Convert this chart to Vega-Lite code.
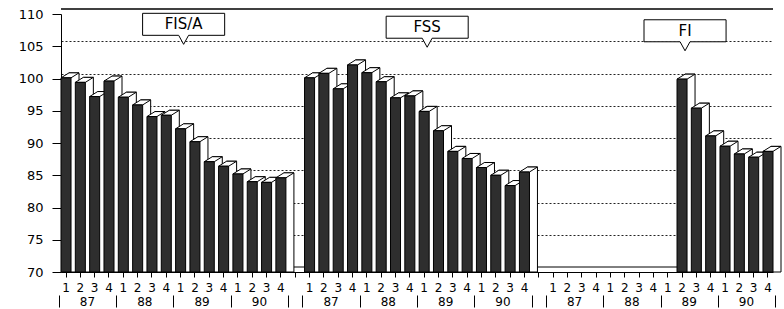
{
  "$schema": "https://vega.github.io/schema/vega-lite/v6.json",
  "width": 712,
  "height": 258,
  "autosize": {"type": "none"},
  "padding": {"left": 61, "top": 14, "right": 11, "bottom": 37},
  "config": {
    "font": "DejaVu Sans",
    "view": {"stroke": null},
    "axis": {"labelColor": "black", "tickColor": "black", "domainColor": "black", "labelFont": "DejaVu Sans"}
  },
  "datasets": {
    "one": [{}],
    "callouts": [
      {"label": "FIS/A", "at": "A89Q1", "y": 108.4},
      {"label": "FSS", "at": "S89Q1", "y": 107.95},
      {"label": "FI", "at": "I89Q2", "y": 107.4}
    ],
    "bars": [
      {"series": "FIS/A", "slot": "A87Q1", "value": 100.1},
      {"series": "FIS/A", "slot": "A87Q2", "value": 99.4},
      {"series": "FIS/A", "slot": "A87Q3", "value": 97.2},
      {"series": "FIS/A", "slot": "A87Q4", "value": 99.6},
      {"series": "FIS/A", "slot": "A88Q1", "value": 97.1},
      {"series": "FIS/A", "slot": "A88Q2", "value": 95.9},
      {"series": "FIS/A", "slot": "A88Q3", "value": 94.1},
      {"series": "FIS/A", "slot": "A88Q4", "value": 94.3},
      {"series": "FIS/A", "slot": "A89Q1", "value": 92.2},
      {"series": "FIS/A", "slot": "A89Q2", "value": 90.2},
      {"series": "FIS/A", "slot": "A89Q3", "value": 87.1},
      {"series": "FIS/A", "slot": "A89Q4", "value": 86.4},
      {"series": "FIS/A", "slot": "A90Q1", "value": 85.2},
      {"series": "FIS/A", "slot": "A90Q2", "value": 84.0},
      {"series": "FIS/A", "slot": "A90Q3", "value": 83.9},
      {"series": "FIS/A", "slot": "A90Q4", "value": 84.6},
      {"series": "FSS", "slot": "S87Q1", "value": 100.1},
      {"series": "FSS", "slot": "S87Q2", "value": 100.8},
      {"series": "FSS", "slot": "S87Q3", "value": 98.4},
      {"series": "FSS", "slot": "S87Q4", "value": 102.1},
      {"series": "FSS", "slot": "S88Q1", "value": 100.9},
      {"series": "FSS", "slot": "S88Q2", "value": 99.5},
      {"series": "FSS", "slot": "S88Q3", "value": 97.0},
      {"series": "FSS", "slot": "S88Q4", "value": 97.3},
      {"series": "FSS", "slot": "S89Q1", "value": 94.9},
      {"series": "FSS", "slot": "S89Q2", "value": 91.9},
      {"series": "FSS", "slot": "S89Q3", "value": 88.7},
      {"series": "FSS", "slot": "S89Q4", "value": 87.6},
      {"series": "FSS", "slot": "S90Q1", "value": 86.2},
      {"series": "FSS", "slot": "S90Q2", "value": 85.0},
      {"series": "FSS", "slot": "S90Q3", "value": 83.4},
      {"series": "FSS", "slot": "S90Q4", "value": 85.5},
      {"series": "FI", "slot": "I89Q2", "value": 99.9},
      {"series": "FI", "slot": "I89Q3", "value": 95.4},
      {"series": "FI", "slot": "I89Q4", "value": 91.1},
      {"series": "FI", "slot": "I90Q1", "value": 89.5},
      {"series": "FI", "slot": "I90Q2", "value": 88.3},
      {"series": "FI", "slot": "I90Q3", "value": 87.8},
      {"series": "FI", "slot": "I90Q4", "value": 88.7}
    ]
  },
  "layer": [
    {
      "data": {"name": "one"},
      "mark": {"type": "rule", "color": "black", "strokeWidth": 1},
      "encoding": {
        "y": {
          "datum": 70, "type": "quantitative",
          "scale": {"domain": [69.225, 109.225], "nice": false},
          "axis": {"orient": "left", "values": [75, 80, 85, 90, 95, 100, 105], "grid": true, "gridDash": [2, 2], "gridColor": "#222", "gridWidth": 1, "labels": false, "ticks": false, "domain": false, "title": null}
        }
      }
    },
    {
      "data": {"name": "one"},
      "mark": {"type": "rule", "color": "black", "strokeWidth": 1.3},
      "encoding": {
        "y": {"datum": 110, "type": "quantitative", "scale": {"domain": [69.225, 109.225], "nice": false}, "axis": null}
      }
    },
    {
      "data": {"name": "bars"},
      "mark": {"type": "bar", "fill": "white", "stroke": "black", "strokeWidth": 1, "xOffset": 8, "yOffset": -5},
      "encoding": {
        "x": {
          "field": "slot", "type": "nominal", "sort": null,
          "scale": {
            "domain": ["A87Q1","A87Q2","A87Q3","A87Q4","A88Q1","A88Q2","A88Q3","A88Q4","A89Q1","A89Q2","A89Q3","A89Q4","A90Q1","A90Q2","A90Q3","A90Q4","gA","S87Q1","S87Q2","S87Q3","S87Q4","S88Q1","S88Q2","S88Q3","S88Q4","S89Q1","S89Q2","S89Q3","S89Q4","S90Q1","S90Q2","S90Q3","S90Q4","gS","I87Q1","I87Q2","I87Q3","I87Q4","I88Q1","I88Q2","I88Q3","I88Q4","I89Q1","I89Q2","I89Q3","I89Q4","I90Q1","I90Q2","I90Q3","I90Q4"],
            "paddingInner": 0.3, "paddingOuter": 0
          },
          "axis": {"orient": "bottom", "labelExpr": "length(datum.value) == 5 ? slice(datum.value, 4) : ''", "labelAngle": 0, "labelFontSize": 12, "labelPadding": 5, "tickSize": 5, "labelOverlap": false, "title": null, "grid": false, "domain": true}
        },
        "y": {
          "field": "value", "type": "quantitative",
          "scale": {"domain": [70, 110], "nice": false},
          "axis": {"orient": "left", "values": [70, 75, 80, 85, 90, 95, 100, 105, 110], "tickSize": 9, "labelPadding": 9, "labelFontSize": 13, "grid": false, "title": null}
        },
        "y2": {"datum": 70}
      }
    },
    {
      "data": {"name": "bars"},
      "mark": {"type": "point", "shape": "M -1 0 L 1 0 L 2.6 -1 L 0.6 -1 Z", "size": 100, "filled": true, "fill": "white", "stroke": "black", "strokeWidth": 1, "opacity": 1},
      "encoding": {
        "x": {"field": "slot", "type": "nominal", "sort": null, "axis": null},
        "y": {"field": "value", "type": "quantitative", "scale": {"domain": [70, 110], "nice": false}, "axis": null}
      }
    },
    {
      "data": {"name": "bars"},
      "mark": {"type": "bar", "fill": "#2e2e2e", "stroke": "black", "strokeWidth": 1},
      "encoding": {
        "x": {
          "field": "slot", "type": "nominal", "sort": null,
          "axis": {"orient": "bottom", "values": ["A87Q2","A88Q2","A89Q2","A90Q2","S87Q2","S88Q2","S89Q2","S90Q2","I87Q2","I88Q2","I89Q2","I90Q2"], "labelExpr": "slice(datum.value, 1, 3)", "labelOffset": 7.16, "labelAngle": 0, "ticks": false, "tickSize": 0, "domain": false, "grid": false, "labelPadding": 24, "labelFontSize": 12, "labelOverlap": false, "title": null}
        },
        "y": {"field": "value", "type": "quantitative", "scale": {"domain": [70, 110], "nice": false}, "axis": null},
        "y2": {"datum": 70}
      }
    },
    {
      "data": {"name": "callouts"},
      "mark": {"type": "point", "shape": "M -3.73 -1 L 3.73 -1 L 3.73 1 L 0.45 1 L 0 1.82 L -0.45 1 L -3.73 1 Z", "size": 484, "filled": true, "fill": "white", "stroke": "black", "strokeWidth": 1, "opacity": 1},
      "encoding": {
        "x": {
          "field": "at", "type": "nominal", "bandPosition": 0.8,
          "axis": {"orient": "bottom", "values": ["A87Q1","A88Q1","A89Q1","A90Q1","S87Q1","S88Q1","S89Q1","S90Q1","I87Q1","I88Q1","I89Q1","I90Q1"], "labels": false, "ticks": true, "tickSize": 12, "tickOffset": -7.16, "tickColor": "black", "tickWidth": 1, "offset": 23, "domain": false, "grid": false, "title": null}
        },
        "y": {"field": "y", "type": "quantitative", "scale": {"domain": [70, 110], "nice": false}, "axis": null}
      }
    },
    {
      "data": {"name": "callouts"},
      "mark": {"type": "text", "fontSize": 15, "font": "DejaVu Sans", "baseline": "middle", "align": "center", "color": "black"},
      "encoding": {
        "x": {
          "field": "at", "type": "nominal", "bandPosition": 0.8,
          "axis": {"orient": "bottom", "values": ["A90Q4","S90Q4","I90Q4"], "labels": false, "ticks": true, "tickSize": 12, "tickOffset": 7.16, "tickColor": "black", "tickWidth": 1, "offset": 23, "domain": false, "grid": false, "title": null}
        },
        "y": {"field": "y", "type": "quantitative", "scale": {"domain": [70, 110], "nice": false}, "axis": null},
        "text": {"field": "label"}
      }
    }
  ],
  "resolve": {"scale": {"y": "independent"}, "axis": {"x": "independent", "y": "independent"}}
}
